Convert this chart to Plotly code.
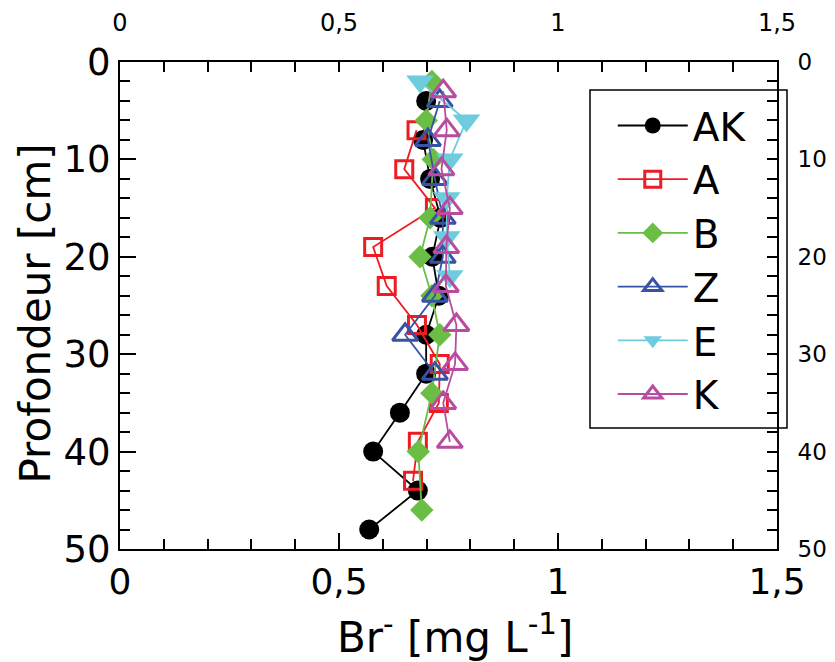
import plotly.graph_objects as go

# ---- data (Br- concentration [mg/L] vs depth [cm]) ----
ak_depth = [4, 8, 12, 16, 20, 24, 28, 32, 36, 40, 44, 48]
ak_br = [0.699, 0.692, 0.708, 0.732, 0.713, 0.728, 0.699, 0.699, 0.639, 0.578, 0.680, 0.569]

a_depth = [7, 11, 15, 19, 23, 27, 31, 35, 39, 43]
a_br = [0.677, 0.649, 0.719, 0.578, 0.609, 0.678, 0.730, 0.728, 0.680, 0.669]

b_depth = [2, 6, 10, 16, 20, 24, 28, 34, 40, 46]
b_br = [0.712, 0.699, 0.715, 0.708, 0.685, 0.712, 0.730, 0.712, 0.681, 0.689]

z_depth = [4, 8, 12, 16, 20, 24, 28, 32]
z_br = [0.730, 0.703, 0.719, 0.737, 0.737, 0.719, 0.651, 0.719]

e_depth = [2, 6, 10, 14, 18, 22]
e_br = [0.685, 0.791, 0.753, 0.746, 0.746, 0.753]

k_depth = [3, 7, 11, 15, 19, 23, 27, 31, 35, 39]
k_br = [0.738, 0.746, 0.734, 0.753, 0.745, 0.744, 0.768, 0.765, 0.738, 0.753]

x_tickvals = [0, 0.5, 1, 1.5]
x_ticktext = ["0", "0,5", "1", "1,5"]
y_tickvals = [0, 10, 20, 30, 40, 50]

FONT = "DejaVu Sans"

series = [
    ("AK", ak_br, ak_depth, "#000000", "circle", 20, None),
    ("A", a_br, a_depth, "#ED1C24", "square-open", 17, 3),
    ("B", b_br, b_depth, "#6ABD45", "diamond", 18, None),
    ("Z", z_br, z_depth, "#3953A4", "triangle-up-open", 22, 3),
    ("E", e_br, e_depth, "#6DCCDD", "triangle-down", 24, None),
    ("K", k_br, k_depth, "#B84C9E", "triangle-up-open", 22, 3),
]

fig = go.Figure()
for name, xs, ys, col, sym, size, lw in series:
    marker = dict(symbol=sym, size=size, color=col)
    if lw:
        marker["line"] = dict(color=col, width=lw)
    fig.add_trace(go.Scatter(
        x=xs, y=ys, name=name, mode="lines+markers",
        line=dict(color=col, width=1.8), marker=marker,
    ))

# empty trace so the secondary (top / right) axes get drawn
fig.add_trace(go.Scatter(x=[], y=[], xaxis="x2", yaxis="y2",
                         showlegend=False, hoverinfo="skip"))

axis_common = dict(showline=True, linecolor="black", linewidth=2,
                   ticks="inside", tickcolor="black", tickwidth=2,
                   showgrid=False, zeroline=False, automargin=False)

# page has an 8px body margin, so the figure is 8px smaller than the window
fig.update_layout(
    width=827, height=654,
    margin=dict(l=112, r=58, t=54, b=113),
    paper_bgcolor="white", plot_bgcolor="white",
    font=dict(family=FONT, color="black"),
    separators=",.",
    showlegend=True,
    legend=dict(x=0.75, y=0.935, xanchor="left", yanchor="top",
                bgcolor="rgba(0,0,0,0)", borderwidth=0,
                font=dict(family=FONT, size=39, color="black"),
                itemwidth=70, tracegroupgap=0),
    xaxis=dict(range=[0, 1.5], tickvals=x_tickvals, ticktext=x_ticktext,
               ticklen=16, tickfont=dict(size=36), ticklabelstandoff=0,
               minor=dict(ticks="inside", dtick=0.1, ticklen=10, tickwidth=2, tickcolor="black"),
               **axis_common),
    yaxis=dict(range=[50, 0], tickvals=y_tickvals,
               ticklen=16, tickfont=dict(size=37), ticklabelstandoff=0,
               minor=dict(ticks="inside", dtick=2, ticklen=10, tickwidth=2, tickcolor="black"),
               **axis_common),
    xaxis2=dict(range=[0, 1.5], overlaying="x", side="top", anchor="y",
                tickvals=x_tickvals, ticktext=x_ticktext, ticklen=10,
                tickfont=dict(size=24), ticklabelstandoff=19,
                minor=dict(ticks="inside", dtick=0.1, ticklen=10, tickwidth=2, tickcolor="black"),
                **axis_common),
    yaxis2=dict(range=[50, 0], overlaying="y", side="right", anchor="x",
                tickvals=y_tickvals, ticklen=10,
                tickfont=dict(size=23), ticklabelstandoff=14,
                minor=dict(ticks="inside", dtick=2, ticklen=10, tickwidth=2, tickcolor="black"),
                **axis_common),
    annotations=[
        dict(text="Br<sup>-</sup> [mg L<sup>-1</sup>]", xref="paper", yref="paper",
             x=0.51, y=0, xanchor="center", yanchor="middle", yshift=-85,
             showarrow=False, font=dict(size=42)),
        dict(text="Profondeur [cm]", xref="paper", yref="paper",
             x=0, y=0.5, xanchor="center", yanchor="middle", xshift=-85, yshift=-8,
             textangle=-90, showarrow=False, font=dict(size=42)),
    ],
    shapes=[dict(type="rect", xref="paper", yref="paper",
                 x0=(590 - 120) / 657, x1=(787 - 120) / 657,
                 y0=(549 - 428) / 487, y1=(549 - 90) / 487,
                 line=dict(color="black", width=1.5))],
)

fig.write_html("out.html")
